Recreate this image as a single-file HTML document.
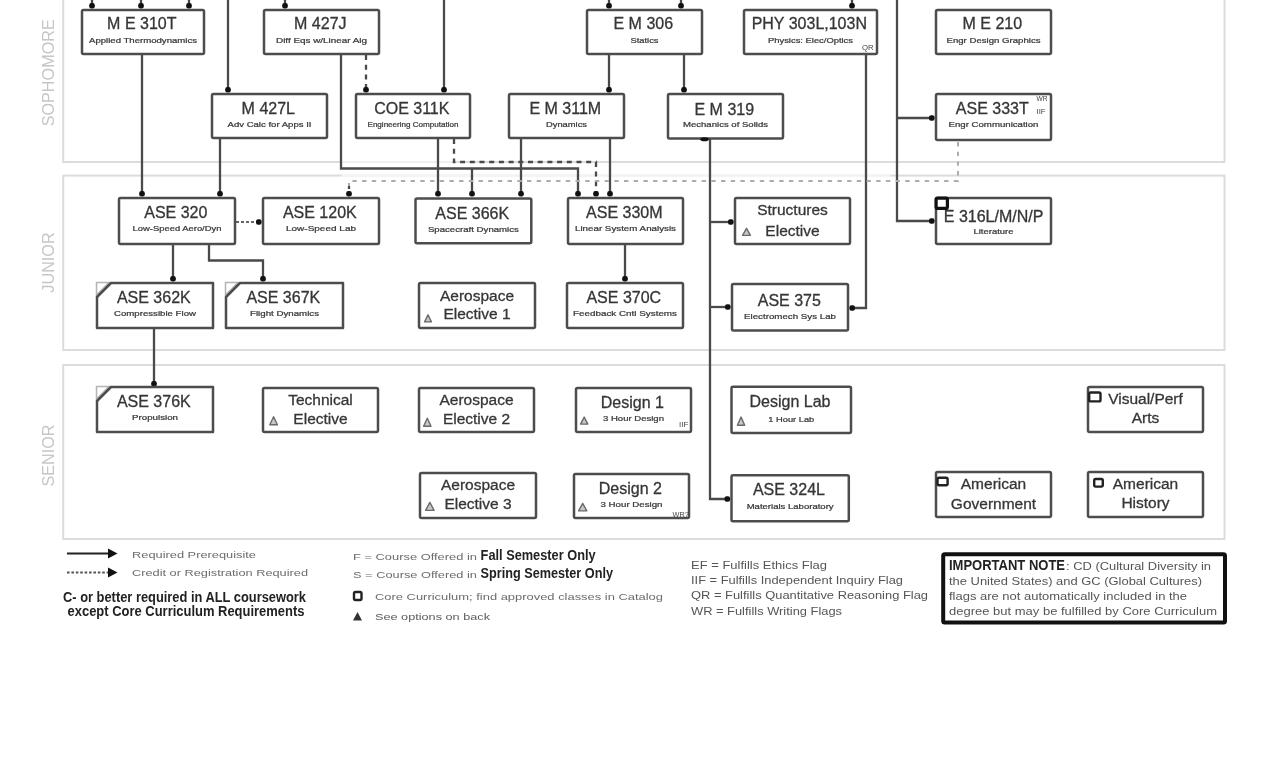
<!DOCTYPE html>
<html><head><meta charset="utf-8"><style>
html,body{margin:0;padding:0;background:#fff;width:1278px;height:760px;overflow:hidden;position:relative}
</style></head><body>
<svg width="1278" height="760" viewBox="0 0 1278 760" style="position:absolute;left:0;top:0;display:block;filter:blur(0.7px)">
<rect x="0" y="0" width="1278" height="760" fill="#ffffff"/>
<g fill="none" stroke="#dcdcdc" stroke-width="2">
<rect x="63.2" y="-20" width="1161.3" height="182"/>
<rect x="63.2" y="175.6" width="1161.3" height="174.4"/>
<rect x="63.2" y="365" width="1161.3" height="174"/>
</g>
<line x1="342" y1="175.6" x2="890" y2="175.6" stroke="#fff" stroke-opacity="0.65" stroke-width="2.4"/>
<line x1="342" y1="162" x2="452" y2="162" stroke="#fff" stroke-opacity="0.55" stroke-width="2.4"/>
<text x="0" y="0" transform="translate(54,72.8) rotate(-90)" text-anchor="middle" font-size="16.2" fill="#c6c6c6" font-family="Liberation Sans, sans-serif">SOPHOMORE</text>
<text x="0" y="0" transform="translate(54,262.5) rotate(-90)" text-anchor="middle" font-size="16.2" fill="#c6c6c6" font-family="Liberation Sans, sans-serif">JUNIOR</text>
<text x="0" y="0" transform="translate(54,455.5) rotate(-90)" text-anchor="middle" font-size="16.2" fill="#c6c6c6" font-family="Liberation Sans, sans-serif">SENIOR</text>
<polyline points="92,-5 92,8" fill="none" stroke="#4a4a4a" stroke-width="2.3"/>
<rect x="89.2" y="3.0" width="5.6" height="5.6" rx="2.1279999999999997" fill="#111"/>
<polyline points="141,-5 141,8" fill="none" stroke="#4a4a4a" stroke-width="2.3"/>
<rect x="138.2" y="3.0" width="5.6" height="5.6" rx="2.1279999999999997" fill="#111"/>
<polyline points="189,-5 189,8" fill="none" stroke="#4a4a4a" stroke-width="2.3"/>
<rect x="186.2" y="3.0" width="5.6" height="5.6" rx="2.1279999999999997" fill="#111"/>
<polyline points="285,-5 285,8" fill="none" stroke="#4a4a4a" stroke-width="2.3"/>
<rect x="282.2" y="3.0" width="5.6" height="5.6" rx="2.1279999999999997" fill="#111"/>
<polyline points="609,-5 609,8" fill="none" stroke="#4a4a4a" stroke-width="2.3"/>
<rect x="606.2" y="3.0" width="5.6" height="5.6" rx="2.1279999999999997" fill="#111"/>
<polyline points="681,-5 681,8" fill="none" stroke="#4a4a4a" stroke-width="2.3"/>
<rect x="678.2" y="3.0" width="5.6" height="5.6" rx="2.1279999999999997" fill="#111"/>
<polyline points="852,-5 852,8" fill="none" stroke="#4a4a4a" stroke-width="2.3"/>
<rect x="849.2" y="3.0" width="5.6" height="5.6" rx="2.1279999999999997" fill="#111"/>
<polyline points="228,-5 228,92" fill="none" stroke="#4a4a4a" stroke-width="2.3"/>
<rect x="225.2" y="87.0" width="5.6" height="5.6" rx="2.1279999999999997" fill="#111"/>
<polyline points="444,-5 444,92" fill="none" stroke="#4a4a4a" stroke-width="2.3"/>
<rect x="441.2" y="87.0" width="5.6" height="5.6" rx="2.1279999999999997" fill="#111"/>
<polyline points="897,-5 897,221 934,221" fill="none" stroke="#4a4a4a" stroke-width="2.3"/>
<rect x="929.0" y="218.2" width="5.6" height="5.6" rx="2.1279999999999997" fill="#111"/>
<polyline points="897,118 934,118" fill="none" stroke="#4a4a4a" stroke-width="2.3"/>
<rect x="929.0" y="115.2" width="5.6" height="5.6" rx="2.1279999999999997" fill="#111"/>
<polyline points="366,55 366,92" fill="none" stroke="#4a4a4a" stroke-width="2.3" stroke-dasharray="5,4.7"/>
<rect x="363.2" y="87.0" width="5.6" height="5.6" rx="2.1279999999999997" fill="#111"/>
<polyline points="609,55 609,92" fill="none" stroke="#4a4a4a" stroke-width="2.3"/>
<rect x="606.2" y="87.0" width="5.6" height="5.6" rx="2.1279999999999997" fill="#111"/>
<polyline points="684,55 684,92" fill="none" stroke="#4a4a4a" stroke-width="2.3"/>
<rect x="681.2" y="87.0" width="5.6" height="5.6" rx="2.1279999999999997" fill="#111"/>
<polyline points="142,55 142,196" fill="none" stroke="#4a4a4a" stroke-width="2.3"/>
<rect x="139.2" y="191.0" width="5.6" height="5.6" rx="2.1279999999999997" fill="#111"/>
<polyline points="220,139 220,196" fill="none" stroke="#4a4a4a" stroke-width="2.3"/>
<rect x="217.2" y="191.0" width="5.6" height="5.6" rx="2.1279999999999997" fill="#111"/>
<polyline points="341,55 341,168.5 578,168.5 578,196" fill="none" stroke="#4a4a4a" stroke-width="2.3"/>
<rect x="575.2" y="191.0" width="5.6" height="5.6" rx="2.1279999999999997" fill="#111"/>
<polyline points="472,168.5 472,196" fill="none" stroke="#4a4a4a" stroke-width="2.3"/>
<rect x="469.2" y="191.0" width="5.6" height="5.6" rx="2.1279999999999997" fill="#111"/>
<polyline points="438,139 438,196" fill="none" stroke="#4a4a4a" stroke-width="2.3"/>
<rect x="435.2" y="191.0" width="5.6" height="5.6" rx="2.1279999999999997" fill="#111"/>
<polyline points="454,139 454,162 596,162 596,196" fill="none" stroke="#4a4a4a" stroke-width="2.3" stroke-dasharray="5,4.7"/>
<rect x="593.2" y="191.0" width="5.6" height="5.6" rx="2.1279999999999997" fill="#111"/>
<polyline points="521,139 521,196" fill="none" stroke="#4a4a4a" stroke-width="2.3"/>
<rect x="518.2" y="191.0" width="5.6" height="5.6" rx="2.1279999999999997" fill="#111"/>
<polyline points="610,139 610,196" fill="none" stroke="#4a4a4a" stroke-width="2.3"/>
<rect x="607.2" y="191.0" width="5.6" height="5.6" rx="2.1279999999999997" fill="#111"/>
<polyline points="710,139 710,499 730,499" fill="none" stroke="#4a4a4a" stroke-width="2.3"/>
<rect x="724.5" y="496.2" width="5.6" height="5.6" rx="2.1279999999999997" fill="#111"/>
<polyline points="710,222 733,222" fill="none" stroke="#4a4a4a" stroke-width="2.3"/>
<rect x="728.0" y="219.2" width="5.6" height="5.6" rx="2.1279999999999997" fill="#111"/>
<polyline points="710,307 730,307" fill="none" stroke="#4a4a4a" stroke-width="2.3"/>
<rect x="725.0" y="304.2" width="5.6" height="5.6" rx="2.1279999999999997" fill="#111"/>
<polyline points="866,55 866,308 850,308" fill="none" stroke="#4a4a4a" stroke-width="2.3"/>
<rect x="849.4000000000001" y="305.2" width="5.6" height="5.6" rx="2.1279999999999997" fill="#111"/>
<polyline points="958,142 958,181 349,181 349,196" fill="none" stroke="#adadad" stroke-width="2" stroke-dasharray="4.4,5.3"/>
<polyline points="349,186 349,196" fill="none" stroke="#4a4a4a" stroke-width="2.3" stroke-dasharray="3,3"/>
<rect x="346.2" y="191.0" width="5.6" height="5.6" rx="2.1279999999999997" fill="#111"/>
<polyline points="236,222 261,222" fill="none" stroke="#666" stroke-width="1.8" stroke-dasharray="3,2"/>
<rect x="256.0" y="219.2" width="5.6" height="5.6" rx="2.1279999999999997" fill="#111"/>
<polyline points="173,245 173,281" fill="none" stroke="#4a4a4a" stroke-width="2.3"/>
<rect x="170.2" y="276.0" width="5.6" height="5.6" rx="2.1279999999999997" fill="#111"/>
<polyline points="209,245 209,260.5 263,260.5 263,281" fill="none" stroke="#4a4a4a" stroke-width="2.3"/>
<rect x="260.2" y="276.0" width="5.6" height="5.6" rx="2.1279999999999997" fill="#111"/>
<polyline points="625,245 625,281" fill="none" stroke="#4a4a4a" stroke-width="2.3"/>
<rect x="622.2" y="276.0" width="5.6" height="5.6" rx="2.1279999999999997" fill="#111"/>
<polyline points="154,329 154,386" fill="none" stroke="#4a4a4a" stroke-width="2.3"/>
<rect x="151.2" y="381.0" width="5.6" height="5.6" rx="2.1279999999999997" fill="#111"/>
<rect x="82" y="10" width="122" height="44" fill="#fff" stroke="#4d4d4d" stroke-width="2.5" rx="1.5"/>
<rect x="264" y="10" width="115" height="44" fill="#fff" stroke="#4d4d4d" stroke-width="2.5" rx="1.5"/>
<rect x="587" y="10" width="115" height="44" fill="#fff" stroke="#4d4d4d" stroke-width="2.5" rx="1.5"/>
<rect x="744" y="10" width="133" height="44" fill="#fff" stroke="#4d4d4d" stroke-width="2.5" rx="1.5"/>
<rect x="936" y="10" width="115" height="44" fill="#fff" stroke="#4d4d4d" stroke-width="2.5" rx="1.5"/>
<rect x="212" y="94" width="115" height="44" fill="#fff" stroke="#4d4d4d" stroke-width="2.5" rx="1.5"/>
<rect x="356" y="94" width="114" height="44" fill="#fff" stroke="#4d4d4d" stroke-width="2.5" rx="1.5"/>
<rect x="509" y="94" width="115" height="44" fill="#fff" stroke="#4d4d4d" stroke-width="2.5" rx="1.5"/>
<rect x="668" y="94" width="115" height="44.5" fill="#fff" stroke="#4d4d4d" stroke-width="2.5" rx="1.5"/>
<rect x="936" y="94" width="115" height="46" fill="#fff" stroke="#4d4d4d" stroke-width="2.5" rx="1.5"/>
<rect x="119" y="198" width="116" height="46" fill="#fff" stroke="#4d4d4d" stroke-width="2.5" rx="1.5"/>
<rect x="263" y="198" width="116" height="46" fill="#fff" stroke="#4d4d4d" stroke-width="2.5" rx="1.5"/>
<rect x="415.5" y="198.6" width="115.79999999999995" height="44.70000000000002" fill="#fff" stroke="#4d4d4d" stroke-width="2.5" rx="1.5"/>
<rect x="568" y="198" width="115" height="46" fill="#fff" stroke="#4d4d4d" stroke-width="2.5" rx="1.5"/>
<rect x="735" y="198" width="115" height="46" fill="#fff" stroke="#4d4d4d" stroke-width="2.5" rx="1.5"/>
<rect x="936" y="198" width="115" height="46" fill="#fff" stroke="#4d4d4d" stroke-width="2.5" rx="1.5"/>
<polygon points="96.5,282.5 109,282.5 96.5,295" fill="#fdfdfd" stroke="#b4b4b4" stroke-width="1.5"/>
<polygon points="97,297 111,283 213,283 213,328 97,328" fill="#fff" stroke="#4d4d4d" stroke-width="2.5" stroke-linejoin="round"/>
<polygon points="225.5,282.5 238,282.5 225.5,295" fill="#fdfdfd" stroke="#b4b4b4" stroke-width="1.5"/>
<polygon points="226,297 240,283 343,283 343,328 226,328" fill="#fff" stroke="#4d4d4d" stroke-width="2.5" stroke-linejoin="round"/>
<rect x="419" y="283" width="116" height="45" fill="#fff" stroke="#4d4d4d" stroke-width="2.5" rx="1.5"/>
<rect x="567" y="283" width="116" height="45" fill="#fff" stroke="#4d4d4d" stroke-width="2.5" rx="1.5"/>
<rect x="732" y="284" width="116" height="46.5" fill="#fff" stroke="#4d4d4d" stroke-width="2.5" rx="1.5"/>
<polygon points="96.5,386.5 109,386.5 96.5,399" fill="#fdfdfd" stroke="#b4b4b4" stroke-width="1.5"/>
<polygon points="97,401 111,387 213,387 213,432 97,432" fill="#fff" stroke="#4d4d4d" stroke-width="2.5" stroke-linejoin="round"/>
<rect x="263" y="388" width="115" height="44" fill="#fff" stroke="#4d4d4d" stroke-width="2.5" rx="1.5"/>
<rect x="419" y="388" width="115" height="44" fill="#fff" stroke="#4d4d4d" stroke-width="2.5" rx="1.5"/>
<rect x="576" y="388" width="115" height="44" fill="#fff" stroke="#4d4d4d" stroke-width="2.5" rx="1.5"/>
<rect x="731.5" y="386.7" width="119.5" height="46.19999999999999" fill="#fff" stroke="#4d4d4d" stroke-width="2.5" rx="1.5"/>
<rect x="1088" y="387" width="115" height="45" fill="#fff" stroke="#4d4d4d" stroke-width="2.5" rx="1.5"/>
<rect x="420" y="473" width="116" height="45" fill="#fff" stroke="#4d4d4d" stroke-width="2.5" rx="1.5"/>
<rect x="574" y="474" width="115" height="44" fill="#fff" stroke="#4d4d4d" stroke-width="2.5" rx="1.5"/>
<rect x="731.5" y="475.2" width="117.29999999999995" height="46.099999999999966" fill="#fff" stroke="#4d4d4d" stroke-width="2.5" rx="1.5"/>
<rect x="936" y="472" width="115" height="45" fill="#fff" stroke="#4d4d4d" stroke-width="2.5" rx="1.5"/>
<rect x="1088" y="472" width="115" height="45" fill="#fff" stroke="#4d4d4d" stroke-width="2.5" rx="1.5"/>
<text x="141.8" y="29.2" text-anchor="middle" font-size="16" fill="#363636" stroke="#363636" stroke-width="0.3" font-family="Liberation Sans, sans-serif">M E 310T</text>
<text x="143.0" y="43.4" text-anchor="middle" font-size="7.2" fill="#383838" stroke="#383838" stroke-width="0.22" font-family="Liberation Sans, sans-serif" textLength="108" lengthAdjust="spacingAndGlyphs">Applied Thermodynamics</text>
<text x="320.3" y="29.2" text-anchor="middle" font-size="16" fill="#363636" stroke="#363636" stroke-width="0.3" font-family="Liberation Sans, sans-serif">M 427J</text>
<text x="321.5" y="43.4" text-anchor="middle" font-size="7.2" fill="#383838" stroke="#383838" stroke-width="0.22" font-family="Liberation Sans, sans-serif" textLength="91" lengthAdjust="spacingAndGlyphs">Diff Eqs w/Linear Alg</text>
<text x="643.3" y="29.2" text-anchor="middle" font-size="16" fill="#363636" stroke="#363636" stroke-width="0.3" font-family="Liberation Sans, sans-serif">E M 306</text>
<text x="644.5" y="43.4" text-anchor="middle" font-size="7.2" fill="#383838" stroke="#383838" stroke-width="0.22" font-family="Liberation Sans, sans-serif" textLength="28" lengthAdjust="spacingAndGlyphs">Statics</text>
<text x="809.3" y="29.2" text-anchor="middle" font-size="16" fill="#363636" stroke="#363636" stroke-width="0.3" font-family="Liberation Sans, sans-serif">PHY 303L,103N</text>
<text x="810.5" y="43.4" text-anchor="middle" font-size="7.2" fill="#383838" stroke="#383838" stroke-width="0.22" font-family="Liberation Sans, sans-serif" textLength="85" lengthAdjust="spacingAndGlyphs">Physics: Elec/Optics</text>
<text x="992.3" y="29.2" text-anchor="middle" font-size="16" fill="#363636" stroke="#363636" stroke-width="0.3" font-family="Liberation Sans, sans-serif">M E 210</text>
<text x="993.5" y="43.4" text-anchor="middle" font-size="7.2" fill="#383838" stroke="#383838" stroke-width="0.22" font-family="Liberation Sans, sans-serif" textLength="94" lengthAdjust="spacingAndGlyphs">Engr Design Graphics</text>
<text x="268.3" y="114" text-anchor="middle" font-size="16" fill="#363636" stroke="#363636" stroke-width="0.3" font-family="Liberation Sans, sans-serif">M 427L</text>
<text x="269.5" y="127.4" text-anchor="middle" font-size="7.2" fill="#383838" stroke="#383838" stroke-width="0.22" font-family="Liberation Sans, sans-serif" textLength="84" lengthAdjust="spacingAndGlyphs">Adv Calc for Apps II</text>
<text x="411.8" y="114" text-anchor="middle" font-size="16" fill="#363636" stroke="#363636" stroke-width="0.3" font-family="Liberation Sans, sans-serif">COE 311K</text>
<text x="413.0" y="127.4" text-anchor="middle" font-size="7.2" fill="#383838" stroke="#383838" stroke-width="0.22" font-family="Liberation Sans, sans-serif" textLength="91" lengthAdjust="spacingAndGlyphs">Engineering Computation</text>
<text x="565.3" y="114" text-anchor="middle" font-size="16" fill="#363636" stroke="#363636" stroke-width="0.3" font-family="Liberation Sans, sans-serif">E M 311M</text>
<text x="566.5" y="127.4" text-anchor="middle" font-size="7.2" fill="#383838" stroke="#383838" stroke-width="0.22" font-family="Liberation Sans, sans-serif" textLength="41" lengthAdjust="spacingAndGlyphs">Dynamics</text>
<text x="724.3" y="114.8" text-anchor="middle" font-size="16" fill="#363636" stroke="#363636" stroke-width="0.3" font-family="Liberation Sans, sans-serif">E M 319</text>
<text x="725.5" y="127.4" text-anchor="middle" font-size="7.2" fill="#383838" stroke="#383838" stroke-width="0.22" font-family="Liberation Sans, sans-serif" textLength="85" lengthAdjust="spacingAndGlyphs">Mechanics of Solids</text>
<text x="992.3" y="114" text-anchor="middle" font-size="16" fill="#363636" stroke="#363636" stroke-width="0.3" font-family="Liberation Sans, sans-serif">ASE 333T</text>
<text x="993.5" y="127.4" text-anchor="middle" font-size="7.2" fill="#383838" stroke="#383838" stroke-width="0.22" font-family="Liberation Sans, sans-serif" textLength="90" lengthAdjust="spacingAndGlyphs">Engr Communication</text>
<text x="175.8" y="218" text-anchor="middle" font-size="16" fill="#363636" stroke="#363636" stroke-width="0.3" font-family="Liberation Sans, sans-serif">ASE 320</text>
<text x="177.0" y="231.4" text-anchor="middle" font-size="7.2" fill="#383838" stroke="#383838" stroke-width="0.22" font-family="Liberation Sans, sans-serif" textLength="89" lengthAdjust="spacingAndGlyphs">Low-Speed Aero/Dyn</text>
<text x="319.8" y="218" text-anchor="middle" font-size="16" fill="#363636" stroke="#363636" stroke-width="0.3" font-family="Liberation Sans, sans-serif">ASE 120K</text>
<text x="321.0" y="231.4" text-anchor="middle" font-size="7.2" fill="#383838" stroke="#383838" stroke-width="0.22" font-family="Liberation Sans, sans-serif" textLength="70" lengthAdjust="spacingAndGlyphs">Low-Speed Lab</text>
<text x="472.2" y="218.6" text-anchor="middle" font-size="16" fill="#363636" stroke="#363636" stroke-width="0.3" font-family="Liberation Sans, sans-serif">ASE 366K</text>
<text x="473.4" y="232.0" text-anchor="middle" font-size="7.2" fill="#383838" stroke="#383838" stroke-width="0.22" font-family="Liberation Sans, sans-serif" textLength="91" lengthAdjust="spacingAndGlyphs">Spacecraft Dynamics</text>
<text x="624.3" y="218" text-anchor="middle" font-size="16" fill="#363636" stroke="#363636" stroke-width="0.3" font-family="Liberation Sans, sans-serif">ASE 330M</text>
<text x="625.5" y="231.4" text-anchor="middle" font-size="7.2" fill="#383838" stroke="#383838" stroke-width="0.22" font-family="Liberation Sans, sans-serif" textLength="101" lengthAdjust="spacingAndGlyphs">Linear System Analysis</text>
<text x="993.5999999999999" y="222.0" text-anchor="middle" font-size="16" fill="#363636" stroke="#363636" stroke-width="0.3" font-family="Liberation Sans, sans-serif">E 316L/M/N/P</text>
<text x="993.5" y="234.4" text-anchor="middle" font-size="7.2" fill="#383838" stroke="#383838" stroke-width="0.22" font-family="Liberation Sans, sans-serif" textLength="40" lengthAdjust="spacingAndGlyphs">Literature</text>
<text x="153.8" y="303" text-anchor="middle" font-size="16" fill="#363636" stroke="#363636" stroke-width="0.3" font-family="Liberation Sans, sans-serif">ASE 362K</text>
<text x="155.0" y="316.4" text-anchor="middle" font-size="7.2" fill="#383838" stroke="#383838" stroke-width="0.22" font-family="Liberation Sans, sans-serif" textLength="82" lengthAdjust="spacingAndGlyphs">Compressible Flow</text>
<text x="283.3" y="303" text-anchor="middle" font-size="16" fill="#363636" stroke="#363636" stroke-width="0.3" font-family="Liberation Sans, sans-serif">ASE 367K</text>
<text x="284.5" y="316.4" text-anchor="middle" font-size="7.2" fill="#383838" stroke="#383838" stroke-width="0.22" font-family="Liberation Sans, sans-serif" textLength="69" lengthAdjust="spacingAndGlyphs">Flight Dynamics</text>
<text x="623.8" y="303" text-anchor="middle" font-size="16" fill="#363636" stroke="#363636" stroke-width="0.3" font-family="Liberation Sans, sans-serif">ASE 370C</text>
<text x="625.0" y="316.4" text-anchor="middle" font-size="7.2" fill="#383838" stroke="#383838" stroke-width="0.22" font-family="Liberation Sans, sans-serif" textLength="104" lengthAdjust="spacingAndGlyphs">Feedback Cntl Systems</text>
<text x="789.3" y="305.5" text-anchor="middle" font-size="16" fill="#363636" stroke="#363636" stroke-width="0.3" font-family="Liberation Sans, sans-serif">ASE 375</text>
<text x="790.0" y="318.9" text-anchor="middle" font-size="7.2" fill="#383838" stroke="#383838" stroke-width="0.22" font-family="Liberation Sans, sans-serif" textLength="92" lengthAdjust="spacingAndGlyphs">Electromech Sys Lab</text>
<text x="153.8" y="407" text-anchor="middle" font-size="16" fill="#363636" stroke="#363636" stroke-width="0.3" font-family="Liberation Sans, sans-serif">ASE 376K</text>
<text x="155.0" y="420.4" text-anchor="middle" font-size="7.2" fill="#383838" stroke="#383838" stroke-width="0.22" font-family="Liberation Sans, sans-serif" textLength="46" lengthAdjust="spacingAndGlyphs">Propulsion</text>
<text x="632.3" y="408" text-anchor="middle" font-size="16" fill="#363636" stroke="#363636" stroke-width="0.3" font-family="Liberation Sans, sans-serif">Design 1</text>
<text x="633.5" y="421.4" text-anchor="middle" font-size="7.2" fill="#383838" stroke="#383838" stroke-width="0.22" font-family="Liberation Sans, sans-serif" textLength="61" lengthAdjust="spacingAndGlyphs">3 Hour Design</text>
<text x="630.3" y="494" text-anchor="middle" font-size="16" fill="#363636" stroke="#363636" stroke-width="0.3" font-family="Liberation Sans, sans-serif">Design 2</text>
<text x="631.5" y="507.4" text-anchor="middle" font-size="7.2" fill="#383838" stroke="#383838" stroke-width="0.22" font-family="Liberation Sans, sans-serif" textLength="62" lengthAdjust="spacingAndGlyphs">3 Hour Design</text>
<text x="790.05" y="406.7" text-anchor="middle" font-size="16" fill="#363636" stroke="#363636" stroke-width="0.3" font-family="Liberation Sans, sans-serif">Design Lab</text>
<text x="791.25" y="421.59999999999997" text-anchor="middle" font-size="7.2" fill="#383838" stroke="#383838" stroke-width="0.22" font-family="Liberation Sans, sans-serif" textLength="46" lengthAdjust="spacingAndGlyphs">1 Hour Lab</text>
<text x="788.9499999999999" y="495.2" text-anchor="middle" font-size="16" fill="#363636" stroke="#363636" stroke-width="0.3" font-family="Liberation Sans, sans-serif">ASE 324L</text>
<text x="790.15" y="508.59999999999997" text-anchor="middle" font-size="7.2" fill="#383838" stroke="#383838" stroke-width="0.22" font-family="Liberation Sans, sans-serif" textLength="87" lengthAdjust="spacingAndGlyphs">Materials Laboratory</text>
<text x="792.5" y="215" text-anchor="middle" font-size="15.5" fill="#363636" stroke="#363636" stroke-width="0.3" font-family="Liberation Sans, sans-serif">Structures</text>
<text x="792.5" y="235.5" text-anchor="middle" font-size="15.5" fill="#363636" stroke="#363636" stroke-width="0.3" font-family="Liberation Sans, sans-serif">Elective</text>
<text x="477.0" y="301" text-anchor="middle" font-size="15.5" fill="#363636" stroke="#363636" stroke-width="0.3" font-family="Liberation Sans, sans-serif">Aerospace</text>
<text x="477.0" y="318.5" text-anchor="middle" font-size="15.5" fill="#363636" stroke="#363636" stroke-width="0.3" font-family="Liberation Sans, sans-serif">Elective 1</text>
<text x="476.5" y="405" text-anchor="middle" font-size="15.5" fill="#363636" stroke="#363636" stroke-width="0.3" font-family="Liberation Sans, sans-serif">Aerospace</text>
<text x="476.5" y="423.5" text-anchor="middle" font-size="15.5" fill="#363636" stroke="#363636" stroke-width="0.3" font-family="Liberation Sans, sans-serif">Elective 2</text>
<text x="478.0" y="490" text-anchor="middle" font-size="15.5" fill="#363636" stroke="#363636" stroke-width="0.3" font-family="Liberation Sans, sans-serif">Aerospace</text>
<text x="478.0" y="508.5" text-anchor="middle" font-size="15.5" fill="#363636" stroke="#363636" stroke-width="0.3" font-family="Liberation Sans, sans-serif">Elective 3</text>
<text x="320.5" y="405" text-anchor="middle" font-size="15.5" fill="#363636" stroke="#363636" stroke-width="0.3" font-family="Liberation Sans, sans-serif">Technical</text>
<text x="320.5" y="423.5" text-anchor="middle" font-size="15.5" fill="#363636" stroke="#363636" stroke-width="0.3" font-family="Liberation Sans, sans-serif">Elective</text>
<text x="1145.5" y="404" text-anchor="middle" font-size="15.5" fill="#363636" stroke="#363636" stroke-width="0.3" font-family="Liberation Sans, sans-serif">Visual/Perf</text>
<text x="1145.5" y="422.5" text-anchor="middle" font-size="15.5" fill="#363636" stroke="#363636" stroke-width="0.3" font-family="Liberation Sans, sans-serif">Arts</text>
<text x="993.5" y="489" text-anchor="middle" font-size="15.5" fill="#363636" stroke="#363636" stroke-width="0.3" font-family="Liberation Sans, sans-serif">American</text>
<text x="993.5" y="508.5" text-anchor="middle" font-size="15.5" fill="#363636" stroke="#363636" stroke-width="0.3" font-family="Liberation Sans, sans-serif">Government</text>
<text x="1145.5" y="489" text-anchor="middle" font-size="15.5" fill="#363636" stroke="#363636" stroke-width="0.3" font-family="Liberation Sans, sans-serif">American</text>
<text x="1145.5" y="507.5" text-anchor="middle" font-size="15.5" fill="#363636" stroke="#363636" stroke-width="0.3" font-family="Liberation Sans, sans-serif">History</text>
<ellipse cx="704.5" cy="139.3" rx="4.2" ry="2" fill="#111"/>
<polygon points="742.6,235.4 746.5,228.3 750.4,235.4" fill="#c8c8c8" stroke="#6a6a6a" stroke-width="1.4" stroke-linejoin="round"/>
<polygon points="424.6,321.9 428.0,314.8 431.4,321.9" fill="#c8c8c8" stroke="#6a6a6a" stroke-width="1.4" stroke-linejoin="round"/>
<polygon points="269.8,424.79999999999995 273.6,416.8 277.4,424.79999999999995" fill="#c8c8c8" stroke="#6a6a6a" stroke-width="1.4" stroke-linejoin="round"/>
<polygon points="423.6,426.2 427.3,418.2 431.0,426.2" fill="#c8c8c8" stroke="#6a6a6a" stroke-width="1.4" stroke-linejoin="round"/>
<polygon points="425.6,510.4 429.85,502.40000000000003 434.09999999999997,510.4" fill="#c8c8c8" stroke="#6a6a6a" stroke-width="1.4" stroke-linejoin="round"/>
<polygon points="580.6,424.09999999999997 584.2,417.1 587.8,424.09999999999997" fill="#c8c8c8" stroke="#6a6a6a" stroke-width="1.4" stroke-linejoin="round"/>
<polygon points="578.6,510.9 582.7,503.40000000000003 586.8,510.9" fill="#c8c8c8" stroke="#6a6a6a" stroke-width="1.4" stroke-linejoin="round"/>
<polygon points="737.4,425.2 741.05,417.1 744.6999999999999,425.2" fill="#c8c8c8" stroke="#6a6a6a" stroke-width="1.4" stroke-linejoin="round"/>
<rect x="936.1" y="198.1" width="11.3" height="10.3" rx="1.5" fill="#fff" stroke="#111" stroke-width="3.2"/>
<rect x="1089.2" y="392.5" width="11.300000000000045" height="8.900000000000011" rx="1.5" fill="#fff" stroke="#222" stroke-width="2.4"/>
<rect x="937.5" y="477.7" width="10.1" height="7.6" rx="1.5" fill="#fff" stroke="#222" stroke-width="2.4"/>
<rect x="1094.2" y="479.0" width="8.6" height="7.6" rx="1.5" fill="#fff" stroke="#222" stroke-width="2.4"/>
<text x="862" y="49.6" font-size="7.695000000000005" fill="#444" font-family="Liberation Sans, sans-serif" textLength="11.600000000000023" lengthAdjust="spacingAndGlyphs">QR</text>
<text x="1036.5" y="101" font-size="7.425000000000001" fill="#444" font-family="Liberation Sans, sans-serif" textLength="11.0" lengthAdjust="spacingAndGlyphs">WR</text>
<text x="1036.5" y="113.5" font-size="7.425000000000001" fill="#444" font-family="Liberation Sans, sans-serif" textLength="9.0" lengthAdjust="spacingAndGlyphs">IIF</text>
<text x="679" y="427.3" font-size="6.344999999999985" fill="#444" font-family="Liberation Sans, sans-serif" textLength="9.399999999999977" lengthAdjust="spacingAndGlyphs">IIF</text>
<text x="672.6" y="517.4" font-size="7.28999999999997" fill="#444" font-family="Liberation Sans, sans-serif" textLength="16.199999999999932" lengthAdjust="spacingAndGlyphs">WR?</text>
<line x1="67" y1="553.5" x2="110" y2="553.5" stroke="#222" stroke-width="2.2"/>
<polygon points="108,548.5 117.5,553.5 108,558.5" fill="#111"/>
<line x1="67" y1="572.5" x2="110" y2="572.5" stroke="#555" stroke-width="1.8" stroke-dasharray="2.6,1.8"/>
<polygon points="108,567.5 117.5,572.5 108,577.5" fill="#111"/>
<text x="132" y="557.5" text-anchor="start" font-size="9.3" fill="#6c6c6c" font-family="Liberation Sans, sans-serif" textLength="124" lengthAdjust="spacingAndGlyphs">Required Prerequisite</text>
<text x="132" y="576.3" text-anchor="start" font-size="9.3" fill="#6c6c6c" font-family="Liberation Sans, sans-serif" textLength="176" lengthAdjust="spacingAndGlyphs">Credit or Registration Required</text>
<text x="63" y="602" text-anchor="start" font-size="14.5" fill="#222" font-family="Liberation Sans, sans-serif" font-weight="bold" textLength="243" lengthAdjust="spacingAndGlyphs">C- or better required in ALL coursework</text>
<text x="67.5" y="615.8" text-anchor="start" font-size="14.5" fill="#222" font-family="Liberation Sans, sans-serif" font-weight="bold" textLength="237" lengthAdjust="spacingAndGlyphs">except Core Curriculum Requirements</text>
<text x="353" y="560" text-anchor="start" font-size="9.8" fill="#6c6c6c" font-family="Liberation Sans, sans-serif" textLength="124" lengthAdjust="spacingAndGlyphs">F = Course Offered in</text>
<text x="480.6" y="560" text-anchor="start" font-size="15" fill="#222" font-family="Liberation Sans, sans-serif" font-weight="bold" textLength="115" lengthAdjust="spacingAndGlyphs">Fall Semester Only</text>
<text x="353" y="578" text-anchor="start" font-size="9.8" fill="#6c6c6c" font-family="Liberation Sans, sans-serif" textLength="124" lengthAdjust="spacingAndGlyphs">S = Course Offered in</text>
<text x="480.6" y="578" text-anchor="start" font-size="15" fill="#222" font-family="Liberation Sans, sans-serif" font-weight="bold" textLength="132.4" lengthAdjust="spacingAndGlyphs">Spring Semester Only</text>
<rect x="354" y="592" width="7.5" height="8" rx="1.5" fill="none" stroke="#222" stroke-width="2.4"/>
<text x="375" y="600" text-anchor="start" font-size="9.8" fill="#6c6c6c" font-family="Liberation Sans, sans-serif" textLength="288" lengthAdjust="spacingAndGlyphs">Core Curriculum; find approved classes in Catalog</text>
<polygon points="353,620.5 357.5,612 362,620.5" fill="#333"/>
<text x="375" y="619.5" text-anchor="start" font-size="9.8" fill="#5a5a5a" font-family="Liberation Sans, sans-serif" textLength="115" lengthAdjust="spacingAndGlyphs">See options on back</text>
<text x="691" y="568.7" text-anchor="start" font-size="10.3" fill="#555" font-family="Liberation Sans, sans-serif" textLength="136" lengthAdjust="spacingAndGlyphs">EF = Fulfills Ethics Flag</text>
<text x="691" y="583.5" text-anchor="start" font-size="10.3" fill="#555" font-family="Liberation Sans, sans-serif" textLength="212" lengthAdjust="spacingAndGlyphs">IIF = Fulfills Independent Inquiry Flag</text>
<text x="691" y="598.5" text-anchor="start" font-size="10.3" fill="#555" font-family="Liberation Sans, sans-serif" textLength="237" lengthAdjust="spacingAndGlyphs">QR = Fulfills Quantitative Reasoning Flag</text>
<text x="691" y="615" text-anchor="start" font-size="10.3" fill="#555" font-family="Liberation Sans, sans-serif" textLength="151" lengthAdjust="spacingAndGlyphs">WR = Fulfills Writing Flags</text>
<rect x="943.2" y="554.3" width="281.8" height="68.3" fill="none" stroke="#111" stroke-width="4" rx="1.5"/>
<text x="949" y="570.3" text-anchor="start" font-size="14.5" fill="#222" font-family="Liberation Sans, sans-serif" font-weight="bold" textLength="116" lengthAdjust="spacingAndGlyphs">IMPORTANT NOTE</text>
<text x="1066" y="570.3" text-anchor="start" font-size="10.5" fill="#555" font-family="Liberation Sans, sans-serif" textLength="145" lengthAdjust="spacingAndGlyphs">: CD (Cultural Diversity in</text>
<text x="949" y="585" text-anchor="start" font-size="10.5" fill="#555" font-family="Liberation Sans, sans-serif" textLength="253" lengthAdjust="spacingAndGlyphs">the United States) and GC (Global Cultures)</text>
<text x="949" y="599.5" text-anchor="start" font-size="10.5" fill="#555" font-family="Liberation Sans, sans-serif" textLength="238" lengthAdjust="spacingAndGlyphs">flags are not automatically included in the</text>
<text x="949" y="614.8" text-anchor="start" font-size="10.5" fill="#555" font-family="Liberation Sans, sans-serif" textLength="268" lengthAdjust="spacingAndGlyphs">degree but may be fulfilled by Core Curriculum</text>
</svg>
</body></html>
